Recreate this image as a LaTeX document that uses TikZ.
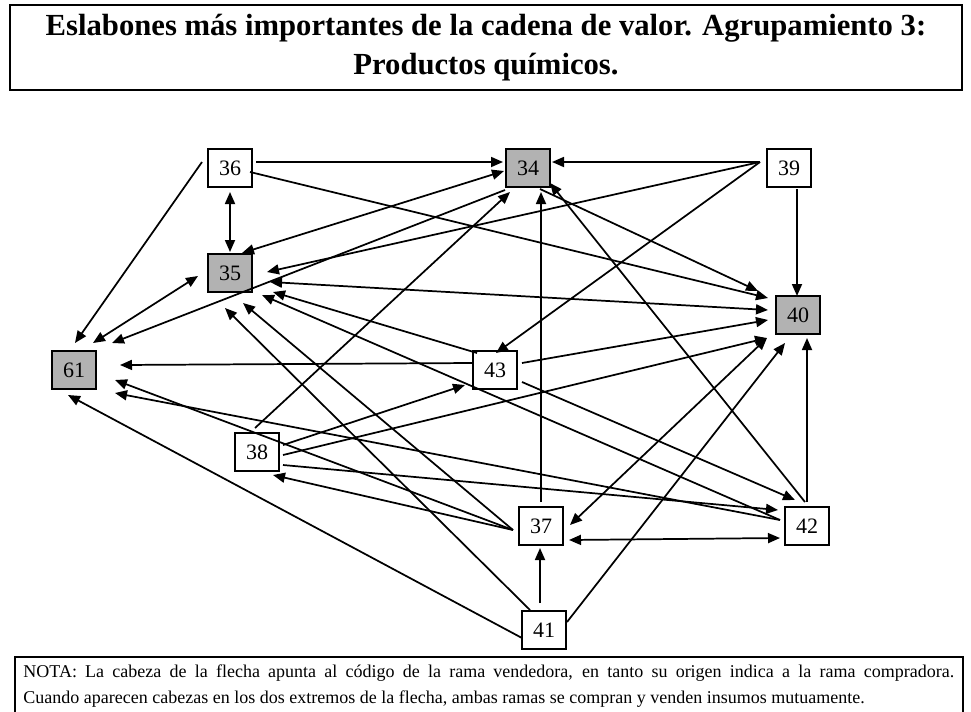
\documentclass[tikz,border=0pt]{standalone}
\usepackage{fontspec}
\setmainfont{Liberation Serif}
\usetikzlibrary{arrows.meta}

\begin{document}
\begin{tikzpicture}[x=0.75pt, y=-0.75pt,
    rama/.style={rectangle, draw, line width=1.4pt, fill=white, minimum width=33pt, minimum height=28.5pt, inner sep=0pt, font=\fontsize{16.5}{18}\selectfont},
    ramagris/.style={rama, fill=black!30},
    flecha/.style={line width=1.3pt, -{Triangle[length=9pt,width=7.5pt]}},
    doble/.style={line width=1.3pt, {Triangle[length=9pt,width=7.5pt]}-{Triangle[length=9pt,width=7.5pt]}}]
\useasboundingbox (0,0) rectangle (971,711);

% titulo y nota
\node[draw, line width=1.5pt, minimum width=714pt, minimum height=63.75pt, align=center, font=\bfseries\fontsize{23}{28.5}\selectfont] (titulo) at (486,47.5) {Eslabones más importantes de la cadena de valor. Agrupamiento 3:\\[1pt]Productos químicos.};
\node[draw, line width=1.2pt, anchor=north west, text width=698pt, inner xsep=6.5pt, inner ysep=6pt, align=justify, font=\fontsize{13.5}{19.5}\selectfont] (nota) at (14,656) {NOTA: La cabeza de la flecha apunta al código de la rama vendedora, en tanto su origen indica a la rama compradora.\linebreak Cuando aparecen cabezas en los dos extremos de la flecha, ambas ramas se compran y venden insumos mutuamente.\strut};

% ramas
\node[rama] (r36) at (230,168) {36};
\node[ramagris] (r34) at (528,168) {34};
\node[rama] (r39) at (789,168) {39};
\node[ramagris] (r35) at (230,273) {35};
\node[ramagris] (r40) at (798,315) {40};
\node[ramagris] (r61) at (74,370) {61};
\node[rama] (r43) at (495,370) {43};
\node[rama] (r38) at (257,452) {38};
\node[rama] (r37) at (541,526) {37};
\node[rama] (r42) at (807,526) {42};
\node[rama] (r41) at (544,630) {41};

% desde 36
\draw[flecha] ([shift={(26,-6)}]r36.center) -- ([shift={(-25,-6)}]r34.center);
\draw[flecha] ([shift={(20,4)}]r36.center) -- ([shift={(-30,-17)}]r40.center);
\draw[doble] ([shift={(0,24)}]r36.center) -- ([shift={(0,-21)}]r35.center);
\draw[flecha] ([shift={(-28,-6)}]r36.center) -- ([shift={(1,-27)}]r61.center);
% desde 34
\draw[doble] ([shift={(-24,3)}]r34.center) -- ([shift={(12,-20)}]r35.center);
\draw[flecha] ([shift={(-23,22)}]r34.center) -- ([shift={(38,-27)}]r61.center);
\draw[flecha] ([shift={(12,21)}]r34.center) -- ([shift={(-40,-24)}]r40.center);
% desde 39
\draw[flecha] ([shift={(-29,-6)}]r39.center) -- ([shift={(24,-6)}]r34.center);
\draw[flecha] ([shift={(-29,-6)}]r39.center) -- ([shift={(37,-1)}]r35.center);
\draw[flecha] ([shift={(-29,-6)}]r39.center) -- ([shift={(1,-17)}]r43.center);
\draw[flecha] ([shift={(8,21)}]r39.center) -- ([shift={(-1,-19)}]r40.center);
% desde 35
\draw[doble] ([shift={(40,9)}]r35.center) -- ([shift={(-30,-5)}]r40.center);
\draw[doble] ([shift={(-32,3)}]r35.center) -- ([shift={(19,-27)}]r61.center);
% desde 43
\draw[flecha] ([shift={(-22,-7)}]r43.center) -- ([shift={(46,-5)}]r61.center);
\draw[flecha] ([shift={(-18,-17)}]r43.center) -- ([shift={(43,19)}]r35.center);
\draw[flecha] ([shift={(27,-7)}]r43.center) -- ([shift={(-30,5)}]r40.center);
\draw[flecha] ([shift={(27,12)}]r43.center) -- ([shift={(-12,-26)}]r42.center);
% desde 38
\draw[flecha] ([shift={(-2,-24)}]r38.center) -- ([shift={(-18,24)}]r34.center);
\draw[flecha] ([shift={(26,-7)}]r38.center) -- ([shift={(-30,15)}]r43.center);
\draw[flecha] ([shift={(26,3)}]r38.center) -- ([shift={(-31,23)}]r40.center);
\draw[flecha] ([shift={(26,13)}]r38.center) -- ([shift={(-29,-16)}]r42.center);
% desde 37
\draw[flecha] ([shift={(0,-24)}]r37.center) -- ([shift={(13,24)}]r34.center);
\draw[flecha] ([shift={(-28,4)}]r37.center) -- ([shift={(13,30)}]r35.center);
\draw[flecha] ([shift={(-28,4)}]r37.center) -- ([shift={(41,10)}]r61.center);
\draw[flecha] ([shift={(-28,4)}]r37.center) -- ([shift={(16,23)}]r38.center);
\draw[doble] ([shift={(29,-1)}]r37.center) -- ([shift={(-31,23)}]r40.center);
\draw[doble] ([shift={(28,14)}]r37.center) -- ([shift={(-27,12)}]r42.center);
% desde 41
\draw[flecha] ([shift={(-4,-27)}]r41.center) -- ([shift={(-1,22)}]r37.center);
\draw[flecha] ([shift={(-14,-20)}]r41.center) -- ([shift={(-5,35)}]r35.center);
\draw[flecha] ([shift={(-22,8)}]r41.center) -- ([shift={(-6,25)}]r61.center);
\draw[flecha] ([shift={(23,-8)}]r41.center) -- ([shift={(-13,28)}]r40.center);
% desde 42
\draw[flecha] ([shift={(-2,-24)}]r42.center) -- ([shift={(22,15)}]r34.center);
\draw[flecha] ([shift={(-27,-6)}]r42.center) -- ([shift={(32,22)}]r35.center);
\draw[flecha] ([shift={(-27,-6)}]r42.center) -- ([shift={(41,23)}]r61.center);
\draw[flecha] ([shift={(0,-24)}]r42.center) -- ([shift={(9,23)}]r40.center);
\end{tikzpicture}
\end{document}
